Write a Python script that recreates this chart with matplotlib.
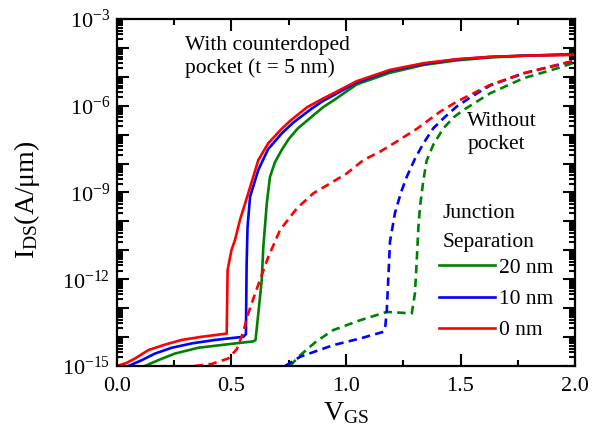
import numpy as np
import matplotlib
matplotlib.use('Agg')
import matplotlib.pyplot as plt
from matplotlib.ticker import LogLocator, FuncFormatter, MultipleLocator, NullFormatter

plt.rcParams['font.family'] = 'Liberation Serif'
plt.rcParams['mathtext.fontset'] = 'custom'
plt.rcParams['mathtext.rm'] = 'Liberation Serif'
plt.rcParams['mathtext.it'] = 'Liberation Serif:italic'

# solid: with counterdoped pocket (t = 5 nm), values are log10(I_DS)
v_pk_0 = [0.0, 0.04, 0.079, 0.137, 0.21, 0.282, 0.37, 0.479, 0.483, 0.50, 0.515, 0.537, 0.573, 0.617,
          0.66, 0.719, 0.755, 0.83, 0.90, 0.95, 1.047, 1.192, 1.338, 1.483, 1.629, 1.774, 2.0]
i_pk_0 = [-15.0, -14.9, -14.74, -14.45, -14.26, -14.1, -13.99, -13.88, -11.68, -10.99, -10.65, -9.95, -9.03, -7.88,
          -7.3, -6.8, -6.53, -6.05, -5.75, -5.55, -5.15, -4.76, -4.53, -4.39, -4.31, -4.27, -4.24]

v_pk_10 = [0.05, 0.108, 0.166, 0.239, 0.326, 0.428, 0.552, 0.563, 0.566, 0.57, 0.581, 0.617, 0.66, 0.719,
           0.77, 0.85, 0.90, 0.95, 1.047, 1.192, 1.338, 1.483, 1.629, 1.774, 2.0]
i_pk_10 = [-15.0, -14.8, -14.57, -14.37, -14.22, -14.1, -13.99, -13.9, -11.5, -10.2, -9.15, -8.22, -7.5, -6.96,
           -6.58, -6.1, -5.83, -5.62, -5.19, -4.79, -4.55, -4.4, -4.31, -4.27, -4.23]

v_pk_20 = [0.122, 0.18, 0.253, 0.355, 0.472, 0.595, 0.605, 0.617, 0.632, 0.639, 0.654, 0.668, 0.69, 0.719,
           0.75, 0.79, 0.865, 0.90, 0.952, 1.047, 1.192, 1.338, 1.483, 1.629, 1.774, 2.0]
i_pk_20 = [-15.0, -14.8, -14.57, -14.37, -14.26, -14.15, -14.1, -13.19, -12.03, -10.88, -9.38, -8.46, -7.95, -7.53,
           -7.15, -6.78, -6.28, -6.05, -5.78, -5.26, -4.86, -4.59, -4.43, -4.33, -4.27, -4.21]

# dashed: without pocket
v_np_0 = [0.34, 0.413, 0.486, 0.523, 0.552, 0.566, 0.588, 0.624, 0.661, 0.712, 0.785, 0.857, 0.93, 1.003,
          1.076, 1.148, 1.221, 1.309, 1.41, 1.483, 1.629, 1.774, 1.92, 2.0]
i_np_0 = [-15.0, -14.93, -14.74, -14.42, -13.82, -13.36, -12.84, -12.03, -11.22, -10.3, -9.55, -9.03, -8.69, -8.34,
          -7.88, -7.59, -7.24, -6.8, -6.21, -5.86, -5.28, -4.88, -4.59, -4.44]

v_np_10 = [0.734, 0.80, 0.944, 1.061, 1.163, 1.172, 1.178, 1.185, 1.192, 1.214, 1.24, 1.265, 1.30, 1.338,
           1.381, 1.43, 1.483, 1.541, 1.629, 1.774, 1.92, 2.0]
i_np_10 = [-15.0, -14.68, -14.28, -14.05, -13.82, -13.6, -13.07, -11.92, -10.7, -9.7, -9.0, -8.46, -7.85, -7.3,
           -6.78, -6.4, -6.03, -5.72, -5.3, -4.88, -4.6, -4.44]

v_np_20 = [0.755, 0.80, 0.87, 0.944, 1.061, 1.178, 1.287, 1.301, 1.309, 1.316, 1.323, 1.338, 1.352, 1.381,
           1.425, 1.47, 1.512, 1.629, 1.774, 1.92, 2.0]
i_np_20 = [-15.0, -14.63, -14.15, -13.76, -13.42, -13.13, -13.18, -12.49, -11.34, -10.2, -9.49, -8.57, -7.9, -7.35,
           -6.78, -6.4, -6.15, -5.57, -5.05, -4.71, -4.5]

seps = ['20 nm', '10 nm', '0 nm']
colors = ['#008000', '#0000ff', '#ff0000']

fig = plt.figure(figsize=(5.99, 4.36), dpi=100)
ax = fig.add_axes([0.1953, 0.1606, 0.7647, 0.7958])

lw = 1.9
dash = (0, (3.2, 2.0))
solid = [(v_pk_20, i_pk_20), (v_pk_10, i_pk_10), (v_pk_0, i_pk_0)]
dashed = [(v_np_20, i_np_20), (v_np_10, i_np_10), (v_np_0, i_np_0)]
for (v, i), c, s in zip(solid, colors, seps):
    ax.plot(v, 10 ** np.array(i), color=c, lw=lw, label=s, solid_joinstyle='round')
for (v, i), c in zip(dashed, colors):
    ax.plot(v, 10 ** np.array(i), color=c, lw=lw, ls=dash)

ax.set_yscale('log')
ax.set_xlim(0, 2.0)
ax.set_ylim(1e-15, 1e-3)

ax.xaxis.set_major_locator(MultipleLocator(0.5))
ax.xaxis.set_minor_locator(MultipleLocator(0.25))
ax.xaxis.set_major_formatter(FuncFormatter(lambda x, p: f'{x:.1f}'))

ax.yaxis.set_major_locator(LogLocator(base=10, numticks=20))
ax.yaxis.set_minor_locator(LogLocator(base=10, subs=np.arange(2, 10), numticks=20))
ax.yaxis.set_minor_formatter(NullFormatter())


def dec_label(y, pos):
    e = int(round(np.log10(y)))
    if e % 3 == 0:
        return r'$\mathdefault{10^{%d}}$' % e
    return ''


ax.yaxis.set_major_formatter(FuncFormatter(dec_label))

for s in ax.spines.values():
    s.set_linewidth(1.6)
ax.tick_params(which='both', direction='in', top=True, right=True, width=1.5, labelsize=16)
ax.tick_params(which='major', length=8.5)
ax.tick_params(which='minor', length=4)
ax.tick_params(axis='x', pad=8)
ax.tick_params(axis='y', pad=5)

ax.set_xlabel(r'V$_{\mathrm{GS}}$', fontsize=20, labelpad=3)
ax.set_ylabel(r'I$_{\mathrm{DS}}$(A/$\mathrm{\mu}$m)', fontsize=20)
ax.yaxis.set_label_coords(-0.164, 0.48)

ax.text(0.148, 0.89, 'With counterdoped\npocket (t = 5 nm)', transform=ax.transAxes,
        fontsize=15.5, ha='left', va='center', linespacing=1.2)
ax.text(0.765, 0.672, 'Without\npocket', transform=ax.transAxes,
        fontsize=15.5, ha='left', va='center', linespacing=1.3)
ax.text(0.71, 0.397, 'Junction\nSeparation', transform=ax.transAxes,
        fontsize=15.5, ha='left', va='center', linespacing=1.7)

leg = ax.legend(loc='upper left', bbox_to_anchor=(0.703, 0.312),
                frameon=False, fontsize=15.5,
                handlelength=2.6, handletextpad=0.2, labelspacing=0.52, borderpad=0,
                borderaxespad=0)
for line in leg.get_lines():
    line.set_linewidth(1.9)

fig.savefig('out.png', dpi=100)
